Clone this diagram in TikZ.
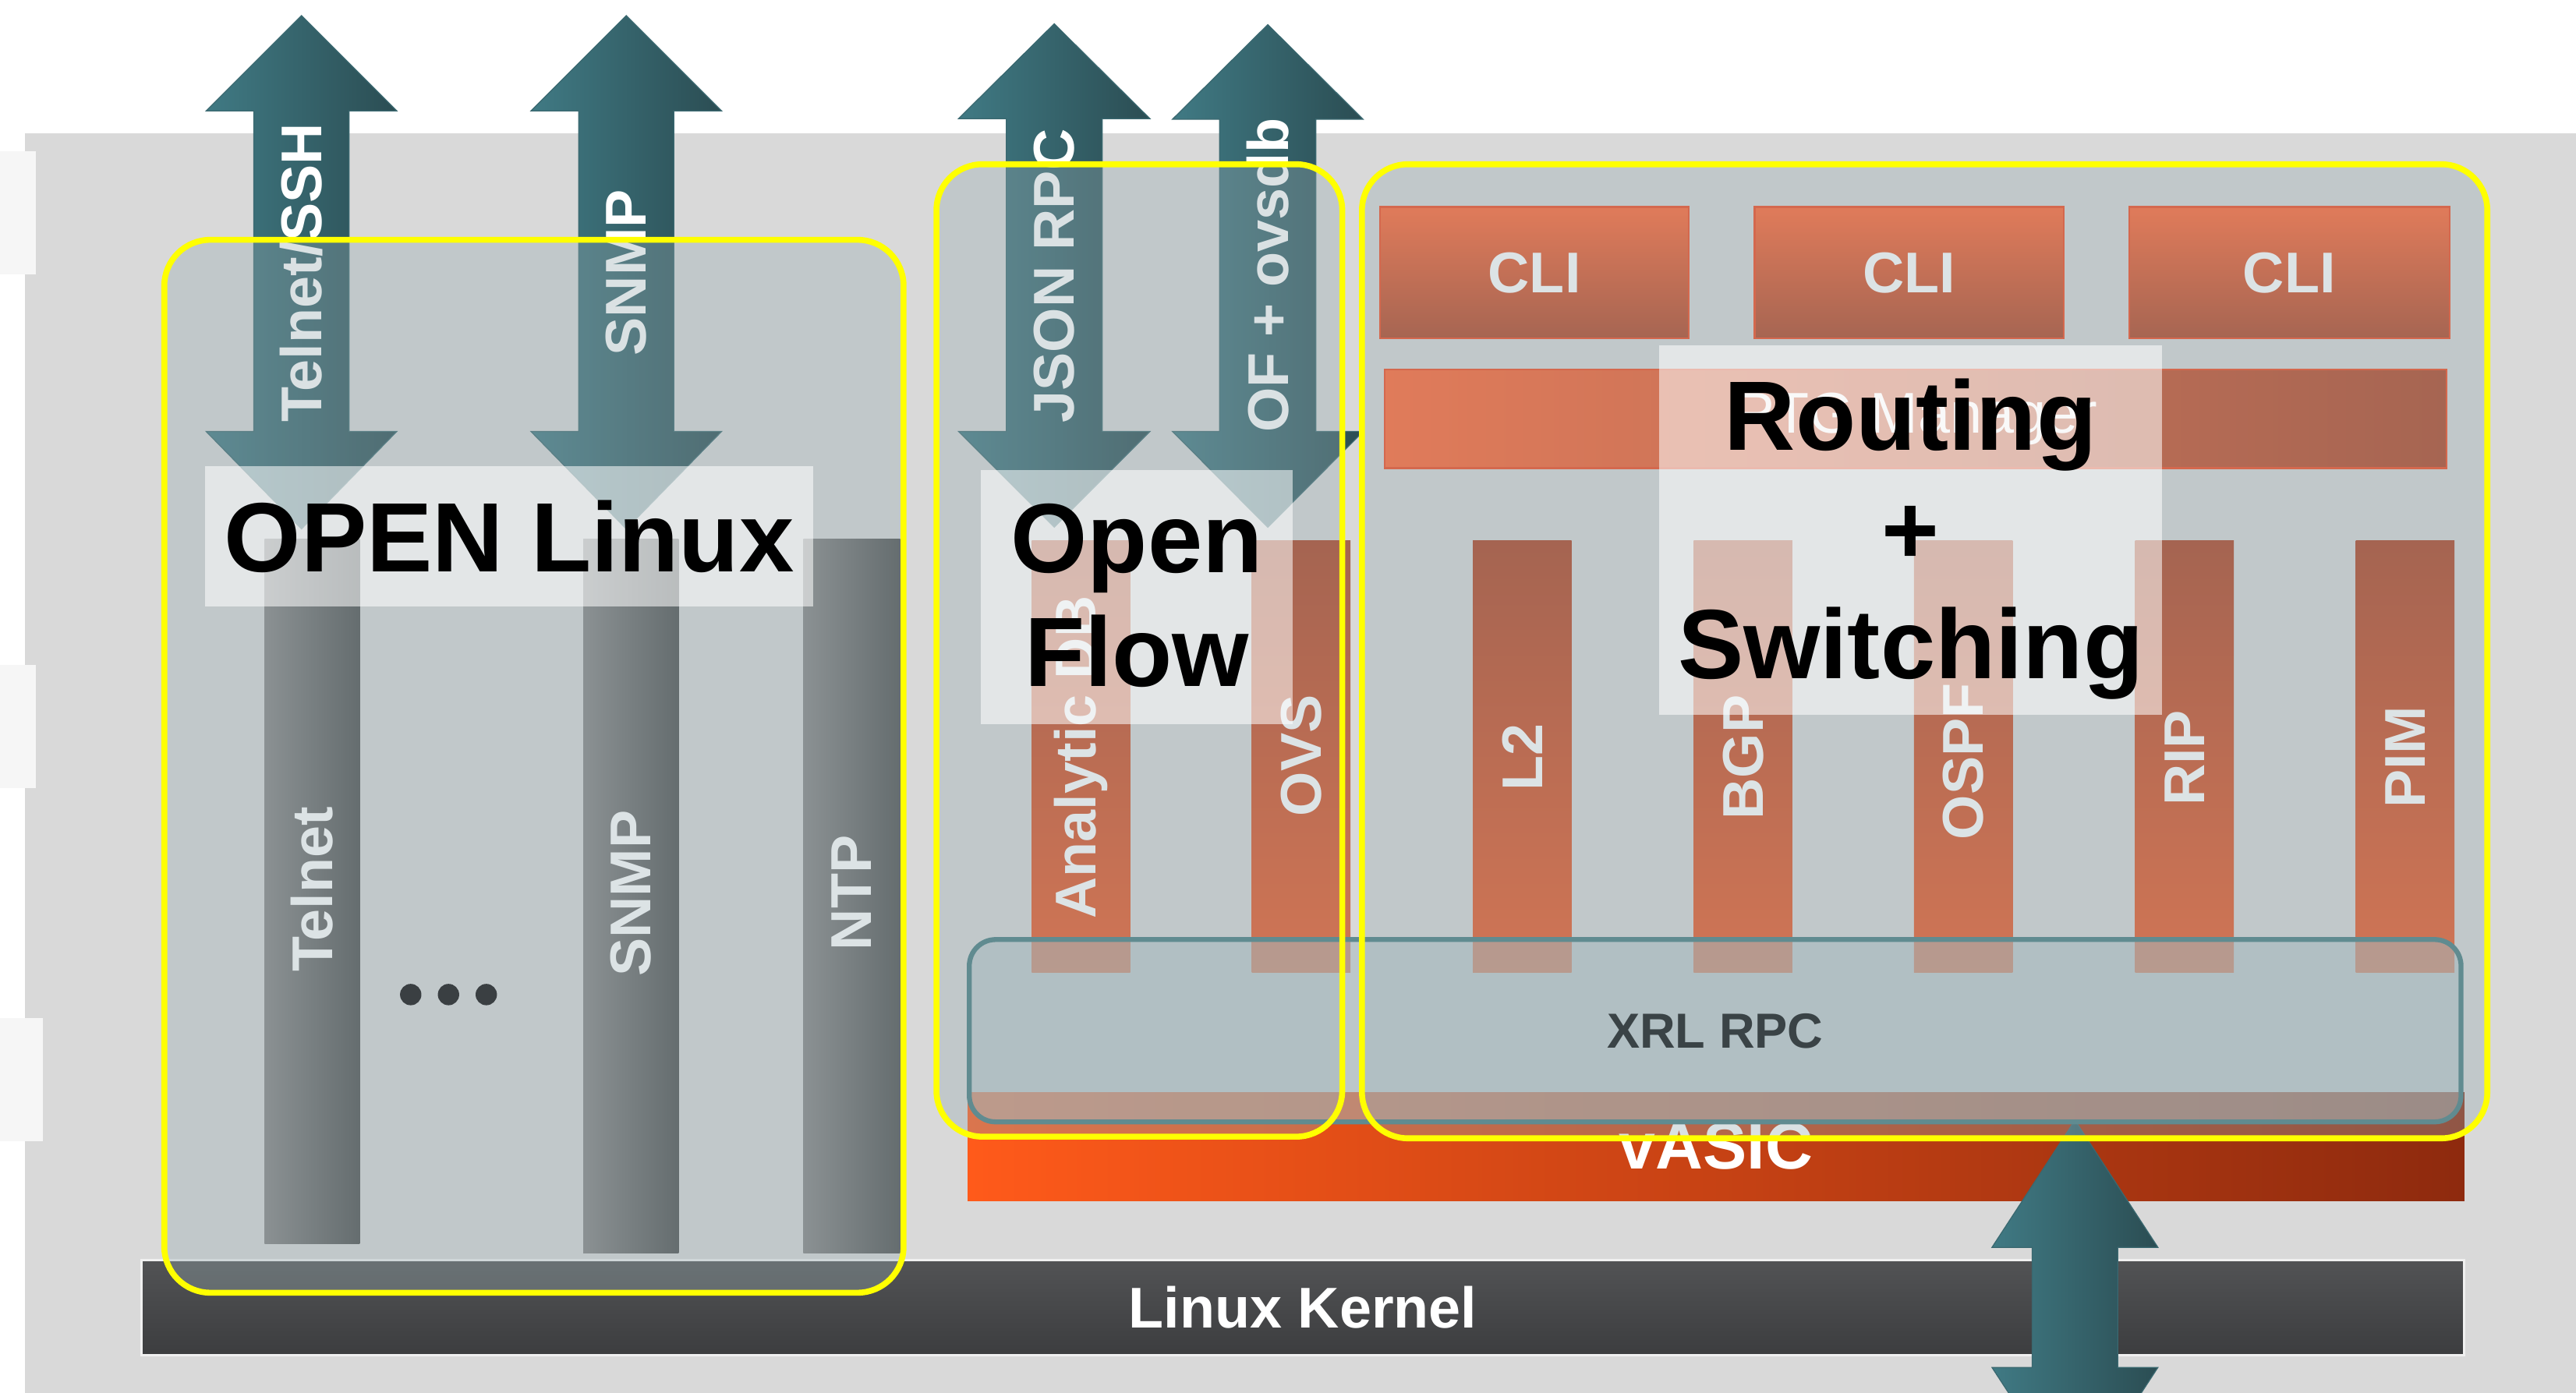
\documentclass[tikz,border=0pt]{standalone}
\usepackage{fontspec}
\setmainfont{Liberation Sans}

\definecolor{panelgray}{RGB}{217,217,217}
\definecolor{tabwhite}{RGB}{246,246,246}
\definecolor{kerneltop}{RGB}{82,83,85}
\definecolor{kernelbot}{RGB}{60,61,63}
\definecolor{tealL}{RGB}{64,122,132}
\definecolor{tealR}{RGB}{43,77,83}
\definecolor{tealedge}{RGB}{58,104,112}
\definecolor{groupgray}{RGB}{150,170,175}
\definecolor{gcolL}{RGB}{139,145,147}
\definecolor{gcolR}{RGB}{101,109,111}
\definecolor{labelgray}{RGB}{220,227,229}
\definecolor{cliTop}{RGB}{224,123,90}
\definecolor{cliBot}{RGB}{166,101,82}
\definecolor{cliEdge}{RGB}{212,104,78}
\definecolor{ocolTop}{RGB}{165,100,81}
\definecolor{ocolBot}{RGB}{208,117,85}
\definecolor{asicL}{RGB}{255,90,26}
\definecolor{asicR}{RGB}{142,42,14}
\definecolor{xrlfill}{RGB}{165,185,190}
\definecolor{xrledge}{RGB}{96,139,144}
\definecolor{xrltext}{RGB}{58,67,70}
\definecolor{dotgray}{RGB}{58,63,66}
\definecolor{hiyellow}{RGB}{255,255,0}

\begin{document}
\begin{tikzpicture}[x=1pt,y=1pt,yscale=-1,xscale=1,
  teal/.style={left color=tealL,right color=tealR,draw=tealedge,line width=0.6pt},
  atxt/.style={rotate=90,inner sep=0pt,text=white,font=\fontsize{35}{42}\selectfont\bfseries},
  vtxt/.style={rotate=90,inner sep=0pt,text=labelgray,font=\fontsize{35}{42}\selectfont\bfseries},
  gcol/.style={left color=gcolL,right color=gcolR,minimum width=58pt,inner sep=0pt},
  ocol/.style={top color=ocolTop,bottom color=ocolBot,minimum width=60pt,minimum height=263pt,inner sep=0pt},
  cli/.style={draw=cliEdge,line width=1pt,top color=cliTop,bottom color=cliBot,minimum width=188pt,minimum height=80pt,inner sep=0pt,text=labelgray,font=\fontsize{35}{42}\selectfont\bfseries},
  groupfill/.style={fill=groupgray,fill opacity=0.35,draw=none,rounded corners=28pt},
  groupline/.style={draw=hiyellow,line width=3.6pt,rounded corners=28pt},
  capbox/.style={fill=white,fill opacity=0.55,draw=none,inner sep=0pt},
  big/.style={inner sep=0pt,text=black,align=center,font=\fontsize{60}{69.5}\selectfont\bfseries}
]
\useasboundingbox (0,0) rectangle (1568,848);
\clip (0,0) rectangle (1568,848);

%Shape: Rectangle (page)
    \fill [white] (0,0) rectangle (1568,848);
%Shape: Rectangle (panel)
    \fill [panelgray] (15,81) rectangle (1568,848);
%Shape: Rectangle (tabs)
    \fill [tabwhite] (0,92) rectangle (22,167);
    \fill [tabwhite] (0,405) rectangle (22,480);
    \fill [tabwhite] (0,620) rectangle (26,695);

% Kernel and vASIC bars
    \node (kernel) at (793,796) [draw={rgb,255:red,240;green,240;blue,240},line width=1.4pt,top color=kerneltop,bottom color=kernelbot,minimum width=1414pt,minimum height=58pt,inner sep=0pt,text=white,font=\fontsize{35}{42}\selectfont\bfseries] {Linux Kernel};
    \node (vasic) at (1044.5,698) [left color=asicL,right color=asicR,minimum width=911pt,minimum height=66pt,inner sep=0pt,text=white,font=\fontsize{40}{48}\selectfont\bfseries] {vASIC};

%Shape: Double Arrow (Telnet/SSH)
    \draw [teal] (183.5,9.5) -- (241.5,67.5) -- (212.5,67.5) -- (212.5,262.7) -- (241.5,262.7) -- (183.5,322) -- (125.5,262.7) -- (154.5,262.7) -- (154.5,67.5) -- (125.5,67.5) -- cycle ;
%Shape: Double Arrow (SNMP)
    \draw [teal] (381.2,9.5) -- (439.2,67.5) -- (410.2,67.5) -- (410.2,262.7) -- (439.2,262.7) -- (381.2,322) -- (323.2,262.7) -- (352.2,262.7) -- (352.2,67.5) -- (323.2,67.5) -- cycle ;
%Shape: Double Arrow (JSON RPC)
    \draw [teal] (641.7,14.5) -- (699.9,72.2) -- (670.9,72.2) -- (670.9,262.7) -- (699.9,262.7) -- (641.7,320.9) -- (583.5,262.7) -- (612.5,262.7) -- (612.5,72.2) -- (583.5,72.2) -- cycle ;
%Shape: Double Arrow (OF + ovsdb)
    \draw [teal] (771.7,15) -- (829.7,72.6) -- (801,72.6) -- (801,262.7) -- (829.7,262.7) -- (771.7,321) -- (713.7,262.7) -- (742.4,262.7) -- (742.4,72.6) -- (713.7,72.6) -- cycle ;
%Shape: Double Arrow (vASIC to ports)
    \draw [teal] (1263,682) -- (1313.5,759.4) -- (1289,759.4) -- (1289,832.5) -- (1313.5,832.5) -- (1263,909.9) -- (1212.5,832.5) -- (1237,832.5) -- (1237,759.4) -- (1212.5,759.4) -- cycle ;

% Text Node
    \node (atelnet) at (183.5,166) [atxt] {Telnet/SSH};
    \node (asnmp) at (381.2,166) [atxt] {SNMP};
    \node (ajson) at (641.7,168) [atxt] {JSON RPC};
    \node (aovsdb) at (771.7,167.6) [atxt] {OF + ovsdb};

%Shape: Rounded Rect (group fills)
    \path [groupfill] (100,146) rectangle (550,787);
    \path [groupfill] (570,100) rectangle (817,692);
    \path [groupfill] (829,100) rectangle (1514,693);

% OPEN Linux columns
    \node (ctelnet) at (190,542.5) [gcol,minimum height=429pt] {};
    \node (csnmp) at (384,545.5) [gcol,minimum height=435pt] {};
    \node (cntp) at (518.5,545.5) [gcol,minimum width=59pt,minimum height=435pt] {};
    \node (ltelnet) at (ctelnet.center |- 0,541.5) [vtxt] {Telnet};
    \node (lsnmp) at (csnmp.center |- 0,544) [vtxt] {SNMP};
    \node (lntp) at (cntp.center |- 0,543.6) [vtxt] {NTP};
    \foreach \dx in {250,273,296}
      \fill [dotgray] (\dx,605.5) circle (6.5pt);

% Open Flow and routing columns
    \node (canalytic) at (658,460.7) [ocol] {};
    \node (covs) at (792,460.7) [ocol] {};
    \node (cl2) at (926.5,460.7) [ocol] {};
    \node (cbgp) at (1061,460.7) [ocol] {};
    \node (cospf) at (1195,460.7) [ocol] {};
    \node (crip) at (1329.7,460.7) [ocol] {};
    \node (cpim) at (1464,460.7) [ocol] {};
    \node (lanalytic) at (658,461) [vtxt] {Analytic DB};
    \node (lovs) at (792,460) [vtxt] {OVS};
    \node (ll2) at (926.5,461) [vtxt] {L2};
    \node (lbgp) at (1061,461) [vtxt] {BGP};
    \node (lospf) at (1195,463.5) [vtxt] {OSPF};
    \node (lrip) at (1329.7,461.5) [vtxt] {RIP};
    \node (lpim) at (1464,461) [vtxt] {PIM};

% CLI boxes and manager bar
    \node (clia) at (934,166) [cli] {CLI};
    \node (clib) at (1162,166) [cli] {CLI};
    \node (clic) at (1393.5,166) [cli,minimum width=195pt] {CLI};
    \node (mgr) at (1166,255) [draw=cliEdge,line width=1pt,left color=cliTop,right color=cliBot,minimum width=646pt,minimum height=60pt,inner sep=0pt,text={rgb,255:red,242;green,242;blue,242},font=\fontsize{35}{42}\selectfont] {RTG Manager};

% XRL RPC
    \node (xrl) at (1044,627.5) [draw=xrledge,line width=3pt,fill=xrlfill,fill opacity=0.55,text opacity=1,rounded corners=16pt,minimum width=908pt,minimum height=111pt,inner sep=0pt,text=xrltext,font=\fontsize{30}{36}\selectfont\bfseries] {XRL RPC};

%Shape: Rounded Rect (yellow outlines)
    \draw [groupline] (100,146) rectangle (550,787);
    \draw [groupline] (570,100) rectangle (817,692);
    \draw [groupline] (829,100) rectangle (1514,693);

% Caption boxes
    \node (caplinux) at (310,326.5) [capbox,minimum width=370pt,minimum height=85pt] {};
    \node (capflow) at (692,363.5) [capbox,minimum width=190pt,minimum height=155pt] {};
    \node (caprouting) at (1163,322.5) [capbox,minimum width=306pt,minimum height=225pt] {};
    \node (tlinux) at (caplinux.center) [big] {OPEN Linux};
    \node (tflow) at (692,362.5) [big] {Open\\Flow};
    \node (trouting) at (1163,328) [big] {Routing\\+\\Switching};

\end{tikzpicture}
\end{document}
